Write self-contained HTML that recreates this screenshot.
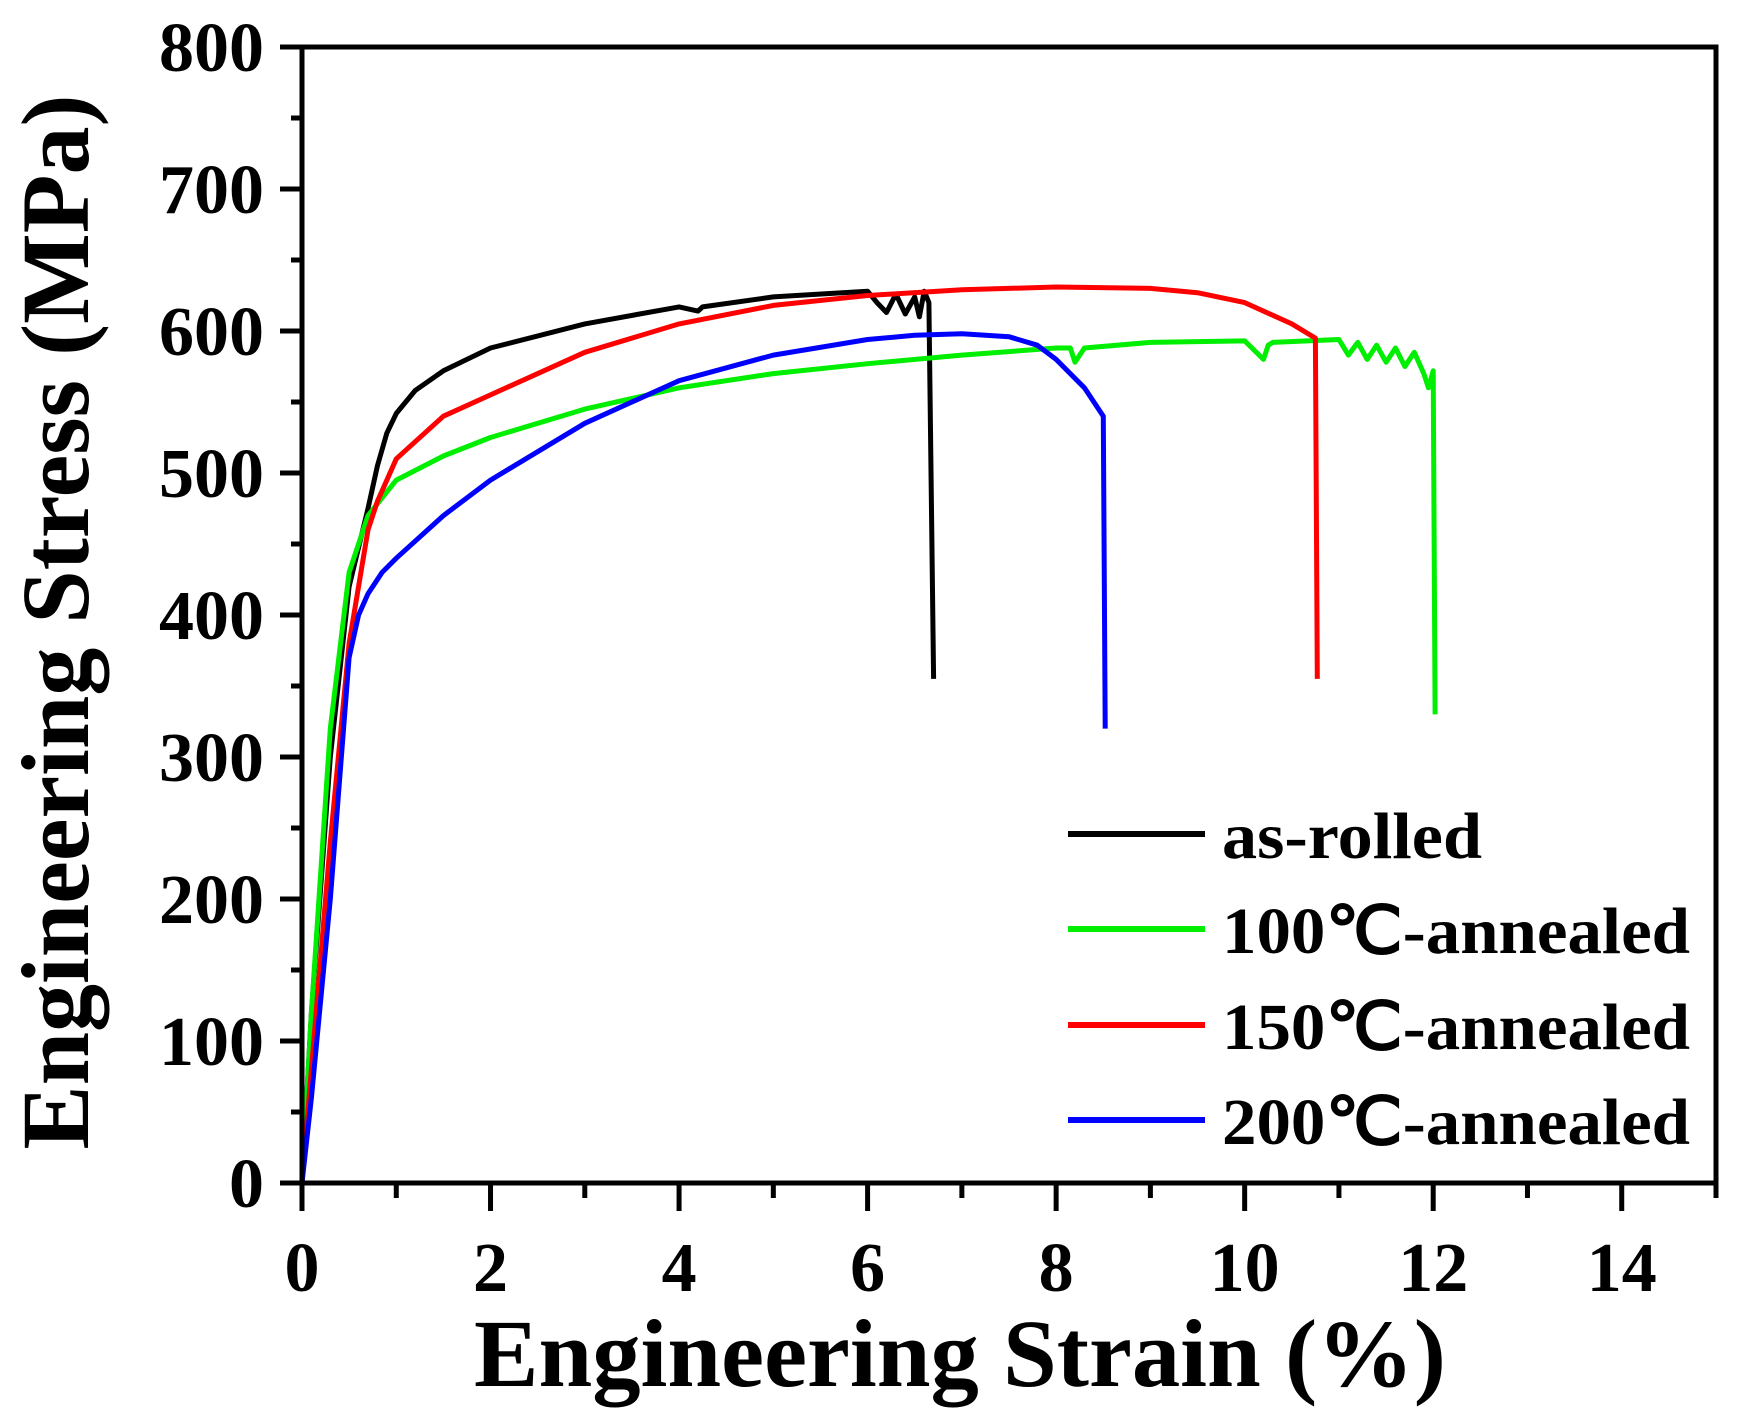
<!DOCTYPE html>
<html><head><meta charset="utf-8"><style>
html,body{margin:0;padding:0;background:#fff;}
svg{display:block;}
text{font-family:"Liberation Serif",serif;font-weight:bold;fill:#000;}
</style></head><body>
<svg id="chart" width="1752" height="1428" viewBox="0 0 1752 1428" xmlns="http://www.w3.org/2000/svg">
<g id="curves"></g>
<g id="axes"></g>
<text x="960" y="1386" font-size="96" text-anchor="middle" textLength="972" lengthAdjust="spacingAndGlyphs">Engineering Strain (%)</text>
<text transform="translate(88,622) rotate(-90)" font-size="96" text-anchor="middle" textLength="1055" lengthAdjust="spacingAndGlyphs">Engineering Stress (MPa)</text>
<g id="legend"></g>
</svg>
<script>
const xTicks=[0,2,4,6,8,10,12,14];
const yTicks=[0,100,200,300,400,500,600,700,800];
const seriesNames=["as-rolled","100℃-annealed","150℃-annealed","200℃-annealed"];
const seriesColors=["#000000","#00ee00","#ff0000","#0000ff"];
const blackX=[0,0.1,0.3,0.5,0.7,0.8,0.9,1.0,1.2,1.5,2,3,4,4.2,4.25,5,6,6.1,6.2,6.3,6.4,6.5,6.55,6.6,6.65,6.7];
const blackY=[0,120,300,420,475,505,528,542,558,572,588,605,617,614,617,624,628,620,613,626,612,624,610,628,620,355];
const greenX=[0,0.1,0.3,0.5,0.7,1,1.5,2,3,4,5,6,7,8,8.15,8.2,8.3,9,10,10.2,10.25,10.3,11,11.1,11.2,11.3,11.4,11.5,11.6,11.7,11.8,11.9,11.95,12,12.02];
const greenY=[0,120,320,430,470,495,512,525,545,560,570,577,583,588,588,578,588,592,593,580,590,592,594,583,592,580,590,578,588,575,585,570,560,572,330];
const redX=[0,0.1,0.3,0.5,0.7,0.8,1,1.5,2,3,4,5,6,7,8,9,9.5,10,10.5,10.75,10.77];
const redY=[0,80,240,380,460,480,510,540,555,585,605,618,625,629,631,630,627,620,605,595,355];
const blueX=[0,0.1,0.3,0.5,0.6,0.7,0.85,1,1.5,2,3,4,5,6,6.5,7,7.5,7.8,8,8.3,8.5,8.52];
const blueY=[0,60,200,370,400,415,430,440,470,495,535,565,583,594,597,598,596,590,580,560,540,320];

const X0=302,X1=1716,XMAX=15,Y0=1183,Y1=47,YMAX=800;
const sx=v=>X0+(X1-X0)*v/XMAX;
const sy=v=>Y0-(Y0-Y1)*v/YMAX;
const NS="http://www.w3.org/2000/svg";
function mk(tag,attrs,parent){const e=document.createElementNS(NS,tag);for(const k in attrs)e.setAttribute(k,attrs[k]);parent.appendChild(e);return e;}

const curves=document.getElementById('curves');
const allX=[blackX,greenX,redX,blueX],allY=[blackY,greenY,redY,blueY];
const curveNames=["curve-as-rolled","curve-100c-annealed","curve-150c-annealed","curve-200c-annealed"];
for(let s=0;s<4;s++){
  const pts=allX[s].map((x,i)=>sx(x).toFixed(1)+","+sy(allY[s][i]).toFixed(1)).join(" ");
  const p=mk('polyline',{points:pts,fill:"none",stroke:seriesColors[s],"stroke-width":5,"stroke-linejoin":"round"},curves);
  
  
}

const axes=document.getElementById('axes');
const frame=mk('rect',{x:X0,y:Y1,width:X1-X0,height:Y0-Y1,fill:"none",stroke:"#000","stroke-width":5},axes);


for(let v=0;v<=15;v+=1){
  const major=v%2===0;
  const t=mk('line',{x1:sx(v),x2:sx(v),y1:Y0,y2:Y0+(major?28:15),stroke:"#000","stroke-width":5},axes);
  
  
}
xTicks.forEach(v=>{
  const t=mk('text',{x:sx(v),y:1291,"font-size":70,"text-anchor":"middle"},axes);
  t.textContent=v;
  
  
});
for(let v=0;v<=800;v+=50){
  const major=v%100===0;
  const t=mk('line',{x1:X0-(major?22:11),x2:X0,y1:sy(v),y2:sy(v),stroke:"#000","stroke-width":5},axes);
  
  
}
yTicks.forEach(v=>{
  const t=mk('text',{x:X0-38,y:sy(v)+24,"font-size":70,"text-anchor":"end"},axes);
  t.textContent=v;
  
  
});

const legend=document.getElementById('legend');
const legY=[834,929,1025,1120];
const legW=[260,468,468,468];
for(let s=0;s<4;s++){
  const l=mk('line',{x1:1068,x2:1205,y1:legY[s],y2:legY[s],stroke:seriesColors[s],"stroke-width":6},legend);
  
  
  const t=mk('text',{x:1222,y:legY[s]+24,"font-size":66,textLength:legW[s],lengthAdjust:"spacingAndGlyphs"},legend);
  t.textContent=seriesNames[s];
  
  
}
</script>
</body></html>
